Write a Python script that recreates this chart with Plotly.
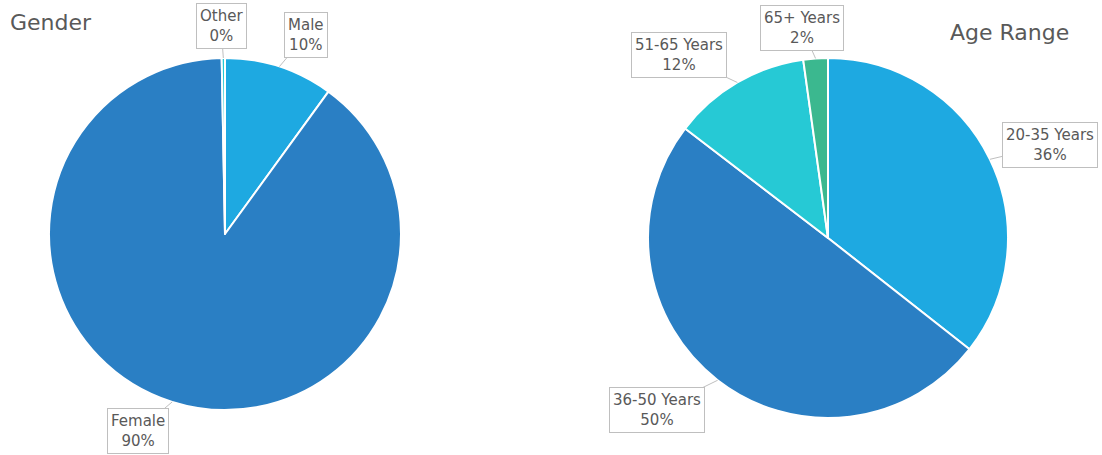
import math
import plotly.graph_objects as go

W, H = 1102, 455

gender_labels = ["Male", "Female", "Other"]
gender_values = [10.0, 89.7, 0.3]
gender_text = ["10%", "90%", "0%"]
gender_colors = ["#1ea9e1", "#2a7fc4", "#26c9d5"]

age_labels = ["20-35 Years", "36-50 Years", "51-65 Years", "65+ Years"]
age_values = [35.6, 49.8, 12.4, 2.2]
age_text = ["36%", "50%", "12%", "2%"]
age_colors = ["#1ea9e1", "#2a7fc4", "#26c9d5", "#3bb88f"]

FONT = "DejaVu Sans, Lato, sans-serif"

# pie geometry (pixels)
g_cx, g_cy, g_r = 225, 234, 176
a_cx, a_cy, a_r = 828, 238, 180

def dom(cx, cy, r):
    return dict(x=[(cx - r) / W, (cx + r) / W], y=[1 - (cy + r) / H, 1 - (cy - r) / H])

fig = go.Figure()
fig.add_trace(go.Pie(labels=gender_labels, values=gender_values, sort=False,
                     direction="clockwise", rotation=0, textinfo="none",
                     marker=dict(colors=gender_colors, line=dict(color="white", width=2)),
                     domain=dom(g_cx, g_cy, g_r), showlegend=False, hoverinfo="label+percent"))
fig.add_trace(go.Pie(labels=age_labels, values=age_values, sort=False,
                     direction="clockwise", rotation=0, textinfo="none",
                     marker=dict(colors=age_colors, line=dict(color="white", width=2)),
                     domain=dom(a_cx, a_cy, a_r), showlegend=False, hoverinfo="label+percent"))

# label box centres (pixels)
gender_box = [(306, 35), (138, 431), (221, 26)]
age_box = [(1050, 145), (657, 410), (679, 55), (802, 28)]

def add_callouts(labels, values, texts, boxes, cx, cy, r):
    total = sum(values)
    start = 0.0
    for lab, v, t, (bx, by) in zip(labels, values, texts, boxes):
        mid = (start + v / 2) / total * 2 * math.pi
        start += v
        hx = cx + r * math.sin(mid)
        hy = cy - r * math.cos(mid)
        fig.add_annotation(x=hx / W, y=1 - hy / H, xref="paper", yref="paper",
                           ax=bx - hx, ay=by - hy, axref="pixel", ayref="pixel",
                           text=f"{lab}<br>{t}", showarrow=True, arrowhead=0,
                           arrowwidth=1, arrowcolor="#bfbfbf",
                           font=dict(family=FONT, size=15, color="#595959"),
                           bgcolor="white", bordercolor="#bfbfbf", borderwidth=1, borderpad=3)

add_callouts(gender_labels, gender_values, gender_text, gender_box, g_cx, g_cy, g_r)
add_callouts(age_labels, age_values, age_text, age_box, a_cx, a_cy, a_r)

fig.add_annotation(x=8 / W, y=1 - 22 / H, xref="paper", yref="paper", xanchor="left",
                   yanchor="middle", showarrow=False, text="Gender",
                   font=dict(family=FONT, size=22, color="#595959"))
fig.add_annotation(x=1071 / W, y=1 - 33 / H, xref="paper", yref="paper", xanchor="right",
                   yanchor="middle", showarrow=False, text="Age Range",
                   font=dict(family=FONT, size=22, color="#595959"))

fig.update_layout(width=W, height=H, margin=dict(l=0, r=0, t=0, b=0),
                  paper_bgcolor="white", plot_bgcolor="white")
fig.write_html("out.html")
